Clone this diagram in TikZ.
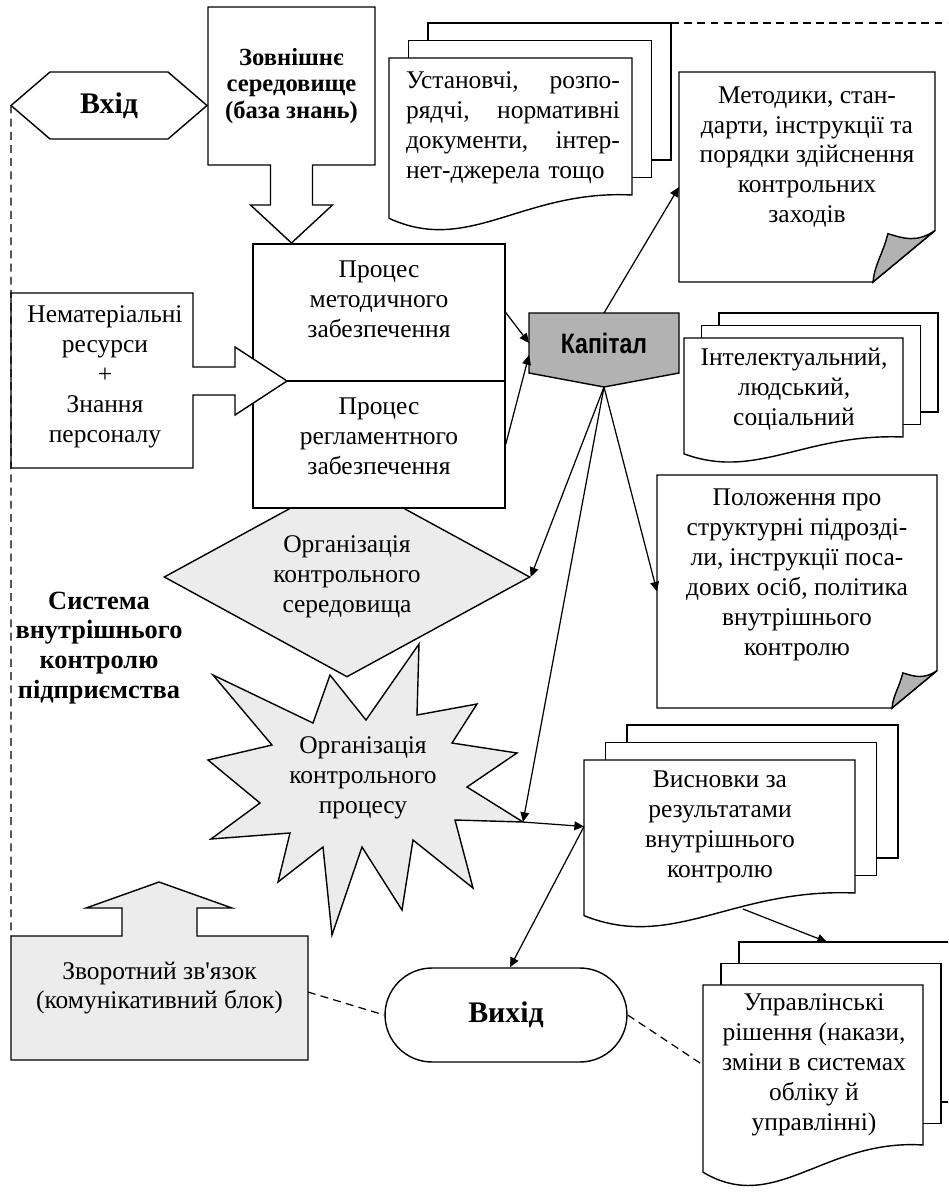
\documentclass[tikz,border=0pt]{standalone}
\usepackage{fontspec}
\setmainfont{Liberation Serif}
\newfontfamily\kapfont[FakeStretch=0.82]{Liberation Sans}
\usetikzlibrary{arrows.meta,
                calc,
                fit,
                shapes.geometric
                }

\tikzset{
  page/.style={draw, fill=white},
  curl/.style={draw, fill=gray!60},
  frame/.style={inner sep=0pt, outer sep=0pt},
  txt/.style={align=center, inner sep=0pt, font=\fontsize{14.5}{17}\selectfont},
  head/.style={align=center, inner sep=0pt, font=\fontsize{14}{15.3}\selectfont\bfseries},
  big/.style={font=\fontsize{17}{20}\selectfont\bfseries},
  link/.style={-{Triangle[length=5.5pt,width=5pt]}, line width=0.7pt},
  dashline/.style={dash pattern=on 4.5pt off 3pt, line width=0.7pt},
}

% three stacked sheets with a wavy bottom: name, x, y, width, height, dx, dy
\newcommand{\docpile}[7]{%
  \filldraw[page] (#2+2*#6,#3-2*#7) rectangle ++(#4,#5);
  \filldraw[page] (#2+#6,#3-#7) rectangle ++(#4,#5);
  \filldraw[page] (#2,#3) -- (#2+#4,#3) -- (#2+#4,#3+#5)
    .. controls (#2+0.55*#4,#3+0.96*#5) and (#2+0.33*#4,#3+1.44*#5)
    .. (#2,#3+1.17*#5) -- cycle;
  \node[frame, fit={(#2,#3) (#2+#4,#3+#5)}] (#1) {};
}

% sheet with a curled corner: name, x, y, width, height, corner
\newcommand{\foldsheet}[6]{%
  \filldraw[page] (#2,#3) -- (#2+#4,#3) -- (#2+#4,#3+#5-0.83*#6) -- (#2+#4-#6,#3+#5)
    -- (#2,#3+#5) -- cycle;
  \filldraw[curl] (#2+#4-#6,#3+#5) -- (#2+#4,#3+#5-0.83*#6)
    .. controls (#2+#4-0.3*#6,#3+#5-0.63*#6) and (#2+#4-0.5*#6,#3+#5-0.7*#6)
    .. (#2+#4-0.76*#6,#3+#5-0.78*#6)
    .. controls (#2+#4-0.84*#6,#3+#5-0.45*#6) and (#2+#4-0.97*#6,#3+#5-0.3*#6)
    .. (#2+#4-#6,#3+#5) -- cycle;
  \node[frame, fit={(#2,#3) (#2+#4,#3+#5)}] (#1) {};
}

\begin{document}
\begin{tikzpicture}[x=0.02cm, y=-0.02cm, line width=0.8pt]
  \useasboundingbox (0,0) rectangle (948,1194);
  \clip (0,0) rectangle (948,1194);

  % вхід
  \node[big, frame, minimum width=3.92cm, minimum height=1.34cm] (input) at (109,105.5) {Вхід};
  \draw (input.west) -- ($(input.north west)+(39,0)$) -- ($(input.north east)+(-39,0)$)
    -- (input.east) -- ($(input.south east)+(-39,0)$) -- ($(input.south west)+(39,0)$) -- cycle;

  % зовнішнє середовище
  \node[head, frame, minimum width=3.34cm, minimum height=3.16cm] (env) at (291.5,86) {Зовнішнє\\середовище\\(база знань)};
  \draw (env.north west) -- (env.north east) -- (env.south east) -- ++(-62.5,0) -- ++(0,40)
    -- ++(20,0) -- ++(-41,38) -- ++(-41,-38) -- ++(20,0) -- ++(0,-40) -- (env.south west) -- cycle;

  \docpile{ust}{389}{58}{243}{137}{19.5}{17.5}
  \node[txt, text width=4.28cm, align=left] (ust-t) at (513,127.5) {Установчі,\hfill розпо-\\рядчі,\hfill нормативні\\документи,\hfill інтер-\\нет-джерела тощо};
  \coordinate (ust-corner) at (671,23);
  \coordinate (east-rim) at (948,23);
  \draw[dashline] (ust-corner) -- (east-rim);

  \foldsheet{met}{679}{72}{256}{210}{62}
  \node[txt] (met-t) at (807,157) {Методики, стан-\\дарти, інструкції та\\порядки здійснення\\контрольних\\заходів};

  % процеси
  \node[diamond, aspect=1.83, draw, fill=gray!15, txt, minimum width=7.32cm, minimum height=4cm] (org) at (347,577) {Організація\\контрольного\\середовища};
  \node[page, minimum width=5.04cm, minimum height=2.74cm] (proc1) at (379,312.5) {};
  \node[page, minimum width=5.04cm, minimum height=2.54cm] (proc2) at (379,444.5) {};
  \node[txt] (proc1-t) at (379,299) {Процес\\методичного\\забезпечення};
  \node[txt] (proc2-t) at (379,436) {Процес\\регламентного\\забезпечення};

  \filldraw[page] (11,293) -- (193,293) -- (193,367) -- (235,367) -- (235,347) -- (287,381)
    -- (235,415) -- (235,395) -- (193,395) -- (193,468) -- (11,468) -- cycle;
  \node[txt] (res) at (105,377) {Нематеріальні\\ресурси\\+\\Знання\\персоналу};

  % капітал
  \filldraw[fill=gray!60] (529,313) -- (679,313) -- (679,373) -- (604,387) -- (529,373) -- cycle;
  \node[frame, minimum width=3cm, minimum height=1.2cm, font=\kapfont\bfseries\fontsize{16}{18}\selectfont] (kap) at (604,343) {Капітал};
  \coordinate (kap-tip) at (604,387);

  \docpile{int}{684}{338}{219}{99}{17.5}{12.5}
  \node[txt] (int-t) at (794,389) {Інтелектуальний,\\людський,\\соціальний};

  \foldsheet{pol}{657}{475}{280}{233}{45}
  \node[txt] (pol-t) at (797,575) {Положення про\\структурні підрозді-\\ли, інструкції поса-\\дових осіб, політика\\внутрішнього\\контролю};

  % контрольний процес
  \filldraw[fill=gray!15] (213,675) -- (313,723) -- (330,675) -- (366,720) -- (419,644) -- (417,715)
    -- (477,704) -- (452,743) -- (517,753) -- (467,787) -- (523,822) -- (455,820) -- (473,888)
    -- (413,840) -- (402,910) -- (362,847) -- (332,935) -- (323,847) -- (278,882) -- (290,833)
    -- (211,839) -- (260,803) -- (208,760) -- (272,745) -- cycle;
  \node[txt] (star) at (363,778) {Організація\\контрольного\\процесу};
  \coordinate (star-tip) at (523,822);

  \node[txt, font=\fontsize{15}{17}\selectfont\bfseries] (sys) at (99,648) {Система\\внутрішнього\\контролю\\підприємства};

  \docpile{vis}{584}{760}{271}{133}{21.5}{17.5}
  \node[txt] (vis-t) at (720,827) {Висновки за\\результатами\\внутрішнього\\контролю};
  \coordinate (vis-wave) at (743,909);

  \docpile{upr}{703}{985}{220}{160}{18}{21.5}
  \node[txt] (upr-t) at (814,1065) {Управлінські\\рішення (накази,\\зміни в системах\\обліку й\\управлінні)};
  \coordinate (upr-top) at (827,942);

  % зворотний зв'язок
  \node[frame, minimum width=5.94cm, minimum height=2.48cm] (fb) at (159.5,998) {};
  \filldraw[fill=gray!15] (fb.north west) -- ++(111,0) -- ++(0,-28) -- ++(-36,0) -- ++(73,-26)
    -- ++(73,26) -- ++(-35,0) -- ++(0,28) -- (fb.north east) -- (fb.south east) -- (fb.south west) -- cycle;
  \node[txt] (fb-t) at (159.5,988) {Зворотний зв\textquotesingle язок\\(комунікативний блок)};

  \node[draw, rounded corners=0.94cm, minimum width=4.84cm, minimum height=1.88cm, big] (out) at (506,1015) {Вихід};

  \draw[link] (proc1.east) -- (kap.west);
  \draw[link] (proc2.east) -- ($(kap.west)+(0,12)$);
  \draw[link] (kap.north) -- ($(met.west)+(0,10)$);
  \draw[link] (kap-tip) -- (org.east);
  \draw[link] (kap-tip) -- (pol.west);
  \draw[link] (kap-tip) -- (star-tip);
  \draw[link] (star-tip) -- (vis.west);
  \draw[link] (vis.west) -- ($(out.north)+(4,0)$);
  \draw[link] (vis-wave) -- (upr-top);
  \draw[dashline] (input.west) -- (fb.north west);
  \draw[dashline] ($(fb.east)+(0,-6)$) -- (out.west);
  \draw[dashline] (out.east) -- (upr.west);
\end{tikzpicture}
\end{document}
